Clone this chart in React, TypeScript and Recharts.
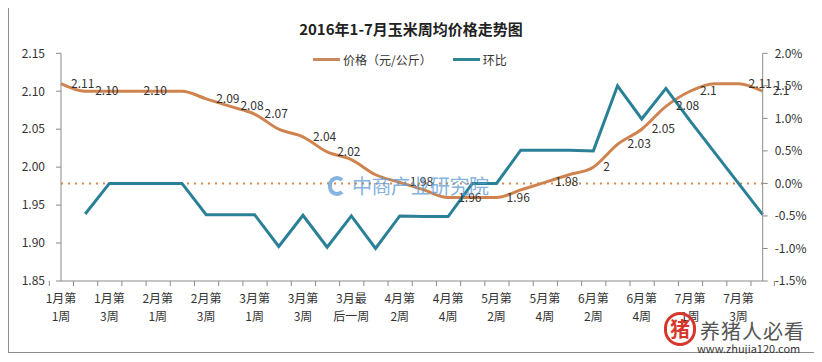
import { LineChart, Line, XAxis, YAxis, ReferenceLine, LabelList } from 'recharts';

const weeks = [
  '1月第1周', '1月第2周', '1月第3周', '1月第4周',
  '2月第1周', '2月第2周', '2月第3周', '2月第4周',
  '3月第1周', '3月第2周', '3月第3周', '3月第4周', '3月最后一周',
  '4月第1周', '4月第2周', '4月第3周', '4月第4周',
  '5月第1周', '5月第2周', '5月第3周', '5月第4周',
  '6月第1周', '6月第2周', '6月第3周', '6月第4周', '6月最后一周',
  '7月第1周', '7月第2周', '7月第3周', '7月第4周',
];

// 价格（元/公斤）
const prices = [
  2.11, 2.10, 2.10, 2.10, 2.10, 2.10, 2.09, 2.08, 2.07, 2.05,
  2.04, 2.02, 2.01, 1.99, 1.98, 1.97, 1.96, 1.96, 1.96, 1.97,
  1.98, 1.99, 2.00, 2.03, 2.05, 2.08, 2.10, 2.11, 2.11, 2.10,
];

// 环比 (%)
const changes = [
  null, -0.47, 0, 0, 0, 0, -0.48, -0.48, -0.48, -0.97,
  -0.49, -0.98, -0.5, -1.0, -0.5, -0.51, -0.51, 0, 0, 0.51,
  0.51, 0.51, 0.5, 1.5, 0.99, 1.46, 0.96, 0.48, 0, -0.48,
];

// data labels shown on the price line
const priceLabels = [
  '2.11', '2.10', null, '2.10', null, null, '2.09', '2.08', '2.07', null,
  '2.04', '2.02', null, null, '1.98', null, '1.96', null, '1.96', null,
  '1.98', null, '2', '2.03', '2.05', '2.08', '2.1', null, '2.11', '2.1',
];

const leftTicks = [1.85, 1.9, 1.95, 2.0, 2.05, 2.1, 2.15];
const rightTicks = [-1.5, -1.0, -0.5, 0, 0.5, 1.0, 1.5, 2.0];

const data = weeks.map((name, i) => ({
  name,
  price: prices[i],
  change: changes[i],
  label: priceLabels[i],
}));

const W = 822;
const H = 362;
const LEFT_W = 61;
const RIGHT_W = 59.3;
const BAND = (W - LEFT_W - RIGHT_W) / weeks.length;
const FONT = '"Noto Sans CJK SC", "Noto Sans", sans-serif';
const ORANGE = '#cf8450';
const TEAL = '#2a8096';

function WeekTick(props: any) {
  const { x, y, payload, index } = props;
  const v: string = payload.value;
  const last = index === weeks.length - 1;
  return (
    <g>
      <line x1={x - BAND / 2} x2={x - BAND / 2} y1={y} y2={y + 5} stroke="#8a8a8a" />
      {last && <line x1={x + BAND / 2} x2={x + BAND / 2} y1={y} y2={y + 5} stroke="#8a8a8a" />}
      {index % 2 === 0 && (
        <text textAnchor="middle" fontSize={12} fill="#333" fontFamily={FONT}>
          <tspan x={x} y={y + 22}>{v.slice(0, 3)}</tspan>
          <tspan x={x} y={y + 40}>{v.slice(3)}</tspan>
        </text>
      )}
    </g>
  );
}

function PriceLabel(props: any) {
  const { x, y, index } = props;
  const t = priceLabels[index];
  if (!t) return null;
  return (
    <text x={x + 10} y={y + 4} fontSize={12} fill="#333" fontFamily={FONT}>
      {t}
    </text>
  );
}

export default function App() {
  return (
    <div style={{ position: 'relative', width: W, height: H, margin: -8, background: '#fff', fontFamily: FONT }}>
      <div style={{ position: 'absolute', left: 8, top: 7, width: 810, height: 344, border: '1px solid #8c8c8c' }} />
      <div style={{ position: 'absolute', left: 0, width: W, top: 18, textAlign: 'center', fontSize: 15, fontWeight: 'bold', color: '#222' }}>
        2016年1-7月玉米周均价格走势图
      </div>
      <div style={{ position: 'absolute', left: 313, top: 51, fontSize: 12, color: '#333', display: 'flex', alignItems: 'center' }}>
        <span style={{ display: 'inline-block', width: 27, height: 3, background: '#c9875e', marginRight: 3 }} />
        <span>价格（元/公斤）</span>
        <span style={{ display: 'inline-block', width: 27, height: 3, background: '#2e8593', marginLeft: 21, marginRight: 3 }} />
        <span>环比</span>
      </div>
      <div style={{ position: 'absolute', left: 0, top: 0 }}>
        <LineChart width={W} height={H} data={data} margin={{ top: 53.3, right: 0, bottom: 0, left: 0 }}>
          <XAxis
            dataKey="name"
            interval={0}
            height={81}
            tickLine={false}
            tickSize={0}
            tickMargin={0}
            tick={<WeekTick />}
            stroke="#8a8a8a"
          />
          <YAxis
            yAxisId="left"
            width={LEFT_W}
            domain={[1.85, 2.15]}
            ticks={leftTicks}
            tickFormatter={(v: number) => v.toFixed(2)}
            tickSize={5}
            tickMargin={11}
            stroke="#8a8a8a"
            tick={{ fill: '#333', fontSize: 12, fontFamily: FONT }}
          />
          <YAxis
            yAxisId="right"
            orientation="right"
            width={RIGHT_W}
            domain={[-1.5, 2.0]}
            ticks={rightTicks}
            tickFormatter={(v: number) => v.toFixed(1) + '%'}
            tickSize={5}
            tickMargin={7}
            stroke="#8a8a8a"
            tick={{ fill: '#333', fontSize: 12, fontFamily: FONT, textAnchor: 'start' }}
          />
          <ReferenceLine
            yAxisId="right"
            segment={[{ x: weeks[0], y: 0 }, { x: weeks[weeks.length - 1], y: 0 }]}
            stroke="#d9884e"
            strokeWidth={2}
            strokeDasharray="2 5"
          />
          <Line
            yAxisId="left"
            dataKey="price"
            type="monotone"
            stroke={ORANGE}
            strokeWidth={3}
            dot={false}
            activeDot={false}
            isAnimationActive={false}
          >
            <LabelList dataKey="label" content={<PriceLabel />} />
          </Line>
          <Line
            yAxisId="right"
            dataKey="change"
            type="linear"
            stroke={TEAL}
            strokeWidth={3}
            dot={false}
            activeDot={false}
            isAnimationActive={false}
          />
        </LineChart>
      </div>
      <div style={{ position: 'absolute', left: 328, top: 171, display: 'flex', alignItems: 'center', opacity: 0.75, pointerEvents: 'none' }}>
        <span style={{ display: 'inline-block', width: 18, height: 20, borderRadius: 10, border: '4px solid #5b9bd5', borderRightColor: 'transparent', marginRight: 6, boxSizing: 'border-box' }} />
        <span style={{ fontSize: 20, color: '#5b9bd5', letterSpacing: -0.5 }}>中商产业研究院</span>
      </div>
      <div style={{ position: 'absolute', left: 664, top: 312, width: 32, height: 34, borderRadius: 17, border: '3px solid #d7372b', boxSizing: 'border-box', color: '#d7372b', fontSize: 20, lineHeight: '28px', textAlign: 'center', fontWeight: 'bold' }}>猪</div>
      <div style={{ position: 'absolute', left: 700, top: 316, fontSize: 20, color: '#555', letterSpacing: 1 }}>养猪人必看</div>
      <div style={{ position: 'absolute', left: 697, top: 340, fontSize: 11, color: '#333' }}>www.zhujia120.com</div>
    </div>
  );
}
